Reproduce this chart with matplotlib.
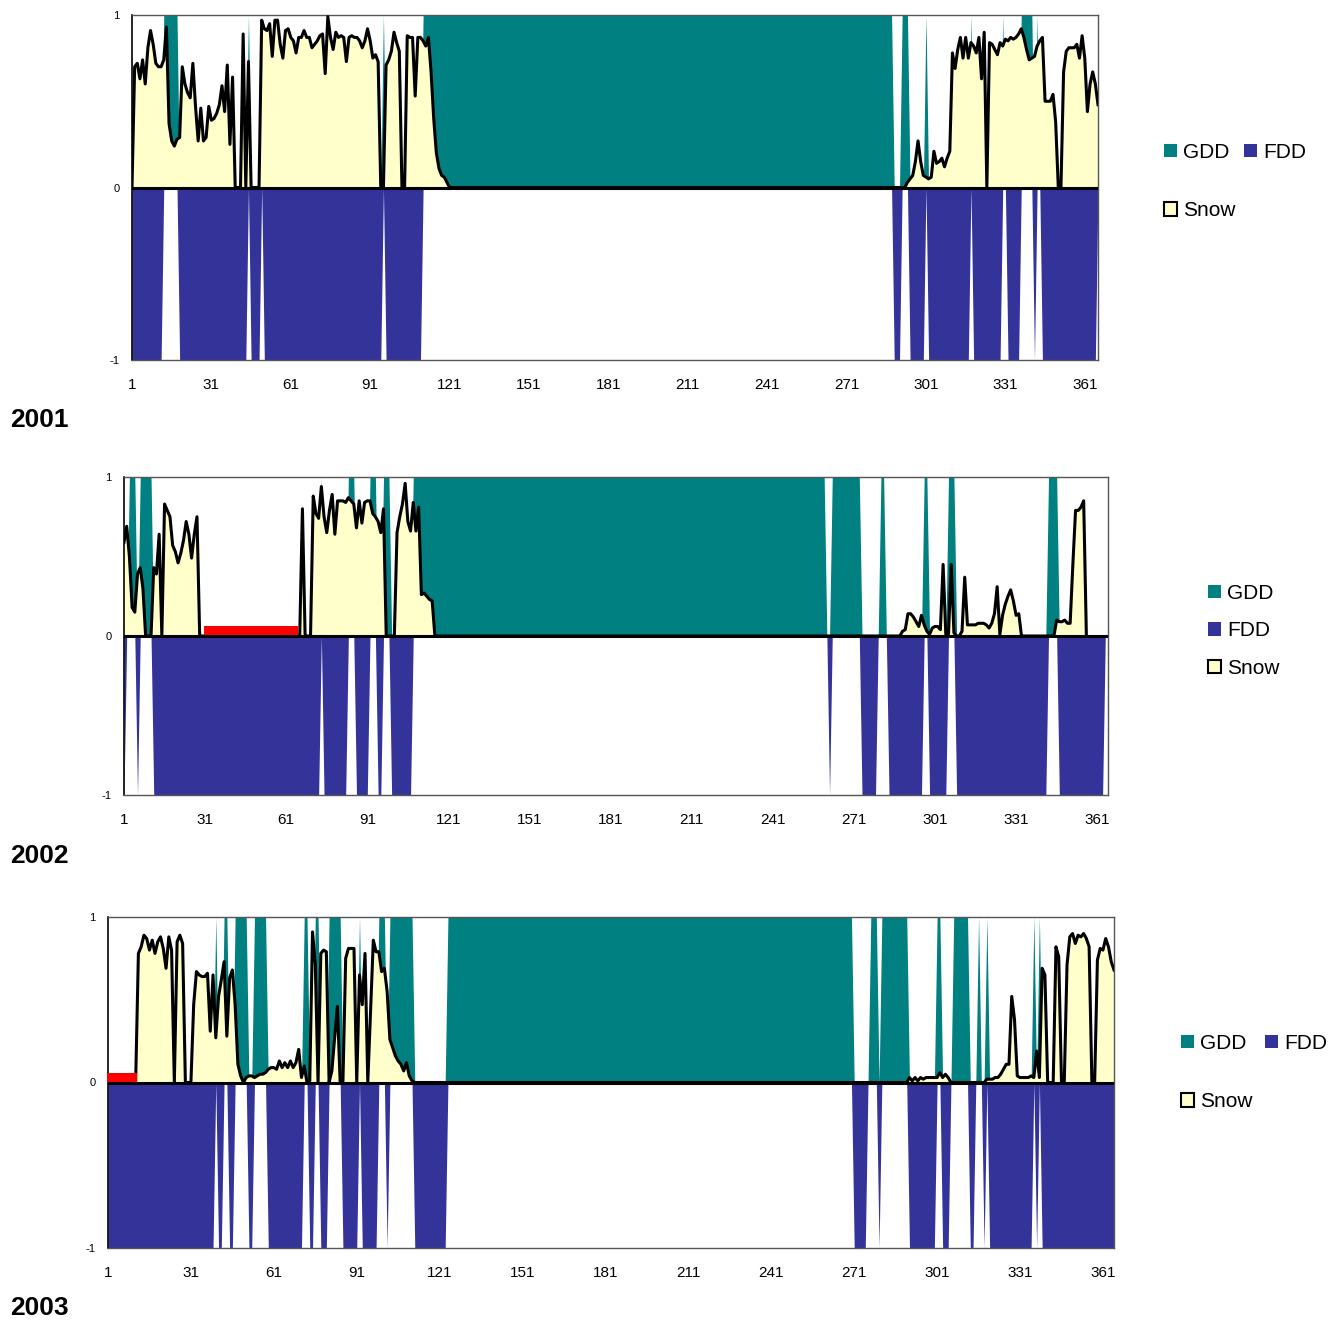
import matplotlib.pyplot as plt
import numpy as np
from matplotlib.patches import Patch

plt.rcParams["font.family"] = ["Liberation Sans", "DejaVu Sans"]

TEAL = "#008080"
NAVY = "#333399"
SNOW = "#FFFFCC"
RED = "#FF0000"

YEARS = ["2001", "2002", "2003"]
N_DAYS = [366, 365, 365]
XTICKS = [1, 31, 61, 91, 121, 151, 181, 211, 241, 271, 301, 331, 361]

# day runs (first, last) with growing / freezing degree days
GDD_2001 = [(13, 18), (45, 45), (96, 96), (111, 288), (292, 294), (301, 301),
            (318, 318), (330, 330), (337, 341), (343, 343)]
FDD_2001 = [(1, 12), (19, 44), (46, 49), (51, 95), (97, 110), (289, 291),
            (295, 300), (302, 317), (319, 329), (332, 336), (342, 342), (345, 365)]

GDD_2002 = [(3, 5), (7, 11), (74, 74), (84, 86), (92, 94), (97, 99), (108, 260),
            (263, 273), (281, 282), (297, 298), (306, 308), (343, 346)]
FDD_2002 = [(1, 1), (6, 6), (12, 73), (75, 83), (87, 91), (95, 96), (100, 107),
            (262, 262), (274, 279), (284, 296), (299, 305), (309, 342), (347, 363)]

GDD_2003 = [(40, 40), (43, 44), (47, 51), (54, 58), (72, 73), (76, 77), (81, 85),
            (92, 92), (99, 101), (103, 111), (124, 270), (277, 279), (281, 290),
            (301, 302), (307, 312), (316, 316), (319, 319), (336, 336), (338, 338)]
FDD_2003 = [(1, 39), (41, 42), (45, 46), (52, 53), (59, 71), (74, 75), (78, 80),
            (86, 91), (93, 98), (102, 102), (112, 123), (271, 275), (280, 280),
            (291, 300), (303, 305), (313, 314), (318, 318), (320, 335), (337, 337),
            (339, 365)]

# snow cover index
SNOW_2001_DAYS = list(range(1, 122)) + list(range(293, 367))
SNOW_2001 = [
    0, .70, .72, .63, .74, .60, .81, .91, .83, .72,
    .70, .70, .74, .93, .37, .27, .24, .28, .29, .70,
    .60, .55, .52, .72, .47, .27, .46, .27, .29, .47,
    .39, .40, .43, .48, .59, .44, .71, .25, .64, 0,
    0, 0, .89, 0, .73, 0, 0, 0, 0, .97,
    .92, .91, .95, .76, .97, .97, .83, .75, .91, .92,
    .87, .85, .78, .87, .87, .91, .87, .87, .81, .83,
    .85, .88, .89, .66, .99, .87, .80, .90, .87, .88,
    .87, .73, .87, .88, .87, .87, .85, .81, .85, .92,
    .85, .75, .77, .73, 0, 0, .71, .74, .79, .90,
    .84, .79, 0, 0, .88, .87, .87, .53, .87, .87,
    .85, .82, .87, .67, .40, .20, .11, .07, .06, .03,
    0,
    0, .03, .05, .07, .15, .27, .15, .07, .06, .05,
    .06, .21, .14, .15, .17, .12, .17, .21, .78, .69,
    .80, .87, .75, .87, .75, .84, .82, .78, .87, .63,
    .90, 0, .84, .83, .80, .77, .84, .82, .86, .85,
    .87, .86, .87, .89, .92, .87, .80, .74, .75, .76,
    .82, .85, .87, .50, .50, .50, .54, .38, 0, 0,
    .67, .79, .81, .81, .81, .83, .75, .88, .75, .44,
    .60, .67, .60, .48,
]

SNOW_2002_DAYS = (list(range(1, 30)) + list(range(66, 117))
                  + list(range(288, 334)) + list(range(345, 358)))
SNOW_2002 = [
    .59, .69, .50, .18, .15, .39, .43, .30, 0, 0,
    0, .43, .39, .64, 0, .83, .79, .75, .57, .53,
    .46, .52, .60, .72, .64, .49, .64, .75, 0,
    0, .80, 0, 0, 0,
    .88, .77, .74, .94, .75, .65, .79, .89, .64, .85,
    .85, .85, .84, .87, .85, .83, .68, .85, .71, .84,
    .85, .85, .77, .75, .72, .65, .80, 0, 0, 0,
    0, .65, .75, .83, .96, .72, .66, .84, .66, .81,
    .26, .27, .25, .23, .22, 0,
    0, .03, .04, .14, .14, .12, .09, .06, .13, .07,
    .03, .01, .05, .06, .06, .04, .45, .01, .01, .45,
    .02, 0, 0, .03, .37, .07, .07, .07, .07, .08,
    .08, .08, .07, .05, .08, .14, .31, .01, .13, .20,
    .25, .29, .22, .13, .14, 0,
    0, .10, .09, .09, .10, .08, .08, .45, .79, .79,
    .81, .85, 0,
]

SNOW_2003_DAYS = (list(range(11, 96)) + list(range(97, 113))
                  + list(range(290, 307)) + list(range(318, 366)))
SNOW_2003 = [
    0, .78, .82, .89, .87, .80, .86, .78, .85, .88,
    .81, .69, .88, .80, 0, .85, .89, .84, 0, 0,
    0, .47, .67, .65, .64, .64, .66, .31, .65, .27,
    .52, .62, .73, .28, .63, .68, .47, .11, .04, 0,
    .03, .04, .04, .03, .04, .05, .05, .06, .08, .09,
    .09, .08, .13, .09, .12, .09, .13, .09, .12, .20,
    .03, .10, 0, .01, .91, .72, 0, .78, .80, .79,
    0, .07, .27, .46, 0, 0, .75, .81, .81, .81,
    0, .65, .47, .78, 0,
    .86, .79, .79, .67, .69, .55, .26, .21, .16, .13,
    .11, .07, .12, .04, .01, 0,
    0, .03, .01, .03, .01, .03, .02, .03, .03, .03,
    .03, .03, .06, .03, .05, .03, 0,
    0, .02, .02, .02, .03, .03, .05, .08, .11, .11,
    .52, .38, .04, .03, .03, .03, .03, .04, .03, .19,
    .03, .69, .65, 0, 0, 0, .82, .76, 0, 0,
    .71, .88, .90, .84, .89, .88, .90, .87, .82, 0,
    0, .74, .81, .80, .87, .82, .73, .68,
]

# days without snow data (red marker)
MISSING_2001 = []
MISSING_2002 = [(31, 65)]
MISSING_2003 = [(1, 11)]


def day_flags(runs, n_days):
    flags = np.zeros(n_days)
    for first, last in runs:
        flags[first - 1:last] = 1.0
    return flags


def draw_year(ax, n_days, gdd_runs, fdd_runs, snow_days, snow_vals, missing):
    days = np.arange(1, n_days + 1)
    ax.fill_between(days, 0, day_flags(gdd_runs, n_days), color=TEAL, lw=0, zorder=1)
    ax.fill_between(days, 0, -day_flags(fdd_runs, n_days), color=NAVY, lw=0, zorder=1)
    ax.fill_between(snow_days, 0, snow_vals, color=SNOW, lw=0, zorder=2)
    ax.plot(snow_days, snow_vals, color="black", lw=2.2, zorder=3)
    ax.axhline(0, color="black", lw=2.2, zorder=4)
    for first, last in missing:
        ax.fill_between([first - 0.5, last + 0.5], 0.006, 0.06, color=RED, lw=0,
                        zorder=5, clip_on=False)

    ax.set_xlim(1, n_days)
    ax.set_ylim(-1, 1)
    ax.set_xticks(XTICKS)
    ax.set_yticks([-1, 0, 1])
    ax.set_yticklabels(["-1", "0", "1"])
    ax.tick_params(axis="x", length=0, pad=13, labelsize=11)
    ax.tick_params(axis="y", length=0, pad=9, labelsize=8)
    for side in ["top", "right", "bottom"]:
        ax.spines[side].set_color("#555555")
        ax.spines[side].set_linewidth(1)
    ax.spines["left"].set_color("black")
    ax.spines["left"].set_linewidth(1.2)


fig = plt.figure(figsize=(13.44, 13.25), dpi=100)

# axes boxes in pixels: left, top, right, bottom
boxes = [(132, 15, 1098, 360), (124, 477, 1108, 795), (108, 917, 1114, 1248)]
year_y = [420, 856, 1308]
gdd_all = [GDD_2001, GDD_2002, GDD_2003]
fdd_all = [FDD_2001, FDD_2002, FDD_2003]
snow_days_all = [SNOW_2001_DAYS, SNOW_2002_DAYS, SNOW_2003_DAYS]
snow_all = [SNOW_2001, SNOW_2002, SNOW_2003]
missing_all = [MISSING_2001, MISSING_2002, MISSING_2003]

# legend: anchor (px), columns, label spacing, column spacing
legend_cfg = [((1164, 143), 2, 1.88, 0.38),
              ((1208, 584), 1, 0.88, 0.67),
              ((1181, 1034), 2, 1.88, 0.58)]

W, H = 1344, 1325
for i, year in enumerate(YEARS):
    left, top, right, bottom = boxes[i]
    ax = fig.add_axes([left / W, 1 - bottom / H, (right - left) / W, (bottom - top) / H])
    draw_year(ax, N_DAYS[i], gdd_all[i], fdd_all[i], snow_days_all[i], snow_all[i],
              missing_all[i])

    fig.text(10 / W, 1 - year_y[i] / H, year, fontsize=19, fontweight="bold",
             va="center", ha="left")

    (lx, ly), ncol, spacing, colspace = legend_cfg[i]
    h_gdd = Patch(facecolor=TEAL, edgecolor="none", label="GDD")
    h_fdd = Patch(facecolor=NAVY, edgecolor="none", label="FDD")
    h_snow = Patch(facecolor=SNOW, edgecolor="black", linewidth=1.5, label="Snow")
    handles = [h_gdd, h_snow, h_fdd] if ncol == 2 else [h_gdd, h_fdd, h_snow]
    ax.legend(handles=handles, ncol=ncol, loc="upper left",
              bbox_to_anchor=(lx / W, 1 - ly / H), bbox_transform=fig.transFigure,
              frameon=False, fontsize=15, handlelength=0.63, handleheight=0.63,
              handletextpad=0.3, labelspacing=spacing, columnspacing=colspace,
              borderpad=0, borderaxespad=0)

fig.savefig("out.png", dpi=100)
